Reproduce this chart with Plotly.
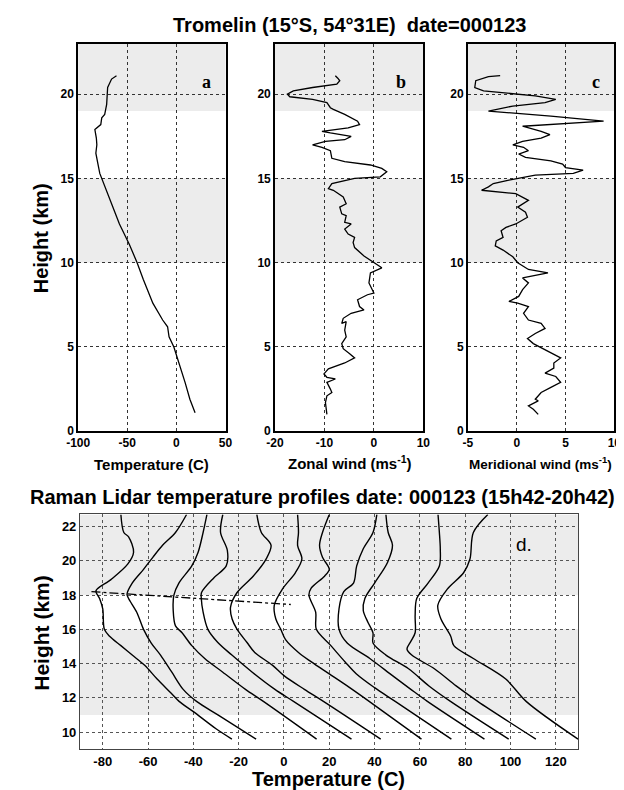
import plotly.graph_objects as go

# ---------------- Radiosonde (panels a, b, c) ----------------
sonde_T_h = [1.1, 1.9, 2.9, 4.1, 5.0, 5.6, 6.2, 6.6, 7.6, 9.0, 10.0, 11.1, 12.3, 13.5, 14.7,
             15.3, 15.9, 16.5, 17.0, 17.4, 17.9, 18.1, 18.2, 18.6, 18.8, 19.4, 20.4, 20.9, 21.1]
sonde_T = [19, 13.7, 8.8, 2.3, -2.6, -7.5, -9, -14, -24, -33.7, -40, -48, -58, -66, -74.5,
           -78, -80, -82, -81, -81.5, -83, -79, -77, -76, -73, -71, -70, -66, -61]

zonal_h = [1.0, 1.7, 2.1, 2.3, 2.5, 2.9, 3.1, 3.2, 3.4, 3.7, 4.05, 4.35, 4.6, 4.9, 5.2, 5.6,
           6.0, 6.5, 6.4, 6.7, 7.0, 7.2, 7.4, 7.8, 8.1, 8.2, 8.8, 9.4, 9.7, 10.0, 10.4, 10.9,
           11.2, 11.5, 11.7, 12.0, 12.3, 12.4, 12.8, 12.9, 13.3, 13.5, 13.9, 14.3, 14.4, 14.7,
           15.0, 15.1, 15.4, 15.6, 15.8, 16.0, 16.2, 16.65, 16.85, 17.0, 17.2, 17.3, 17.5, 17.7,
           17.8, 18.0, 18.2, 18.4, 18.8, 19.1, 19.2, 19.5, 19.7, 19.85, 20.0, 20.2, 20.4, 20.6,
           20.8, 20.95, 21.1]
zonal_u = [-9.5, -9.8, -9.5, -8.5, -8.8, -9.5, -7.8, -9.5, -10.1, -9.2, -5.9, -3.9, -4.9, -6.2,
           -6.5, -5.6, -5.9, -5.6, -6.5, -6.2, -4.6, -2.0, -2.9, -3.3, -1.3, 0.0, -1.0, -0.7,
           1.6, 0.0, -2.0, -3.9, -4.2, -3.9, -5.2, -5.9, -4.6, -5.9, -5.6, -6.5, -6.9, -5.6,
           -6.2, -8.2, -9.2, -8.5, -3.9, 1.3, 2.6, 1.6, -0.7, -5.9, -8.5, -8.8, -10.5, -12.4,
           -9.8, -5.9, -4.6, -8.8, -10.5, -5.2, -2.9, -3.3, -5.9, -8.2, -8.8, -9.5, -12.4, -17,
           -17.5, -16.3, -12.4, -7.5, -6.9, -7.3, -7.8]

merid_h = [1.0, 1.3, 1.5, 1.8, 1.9, 2.3, 2.6, 2.9, 3.25, 3.45, 3.75, 4.05, 4.35, 4.85, 5.2,
           5.5, 5.8, 6.1, 6.4, 6.6, 7.0, 7.4, 7.6, 7.7, 8.0, 8.4, 8.8, 9.1, 9.4, 9.6, 10.0,
           10.35, 10.75, 11.0, 11.3, 11.5, 11.9, 12.1, 12.3, 12.7, 13.0, 13.3, 13.7, 14.1,
           14.25, 14.3, 14.5, 14.7, 14.9, 15.2, 15.3, 15.5, 15.65, 15.85, 16.05, 16.25, 16.45,
           16.65, 16.85, 17.0, 17.2, 17.4, 17.6, 17.8, 18.1, 18.3, 18.4, 18.7, 18.9, 19.0,
           19.3, 19.5, 19.7, 19.9, 20.2, 20.4, 20.8, 21.05, 21.1]
merid_v = [2.2, 1.7, 1.2, 2.2, 1.9, 2.5, 3.5, 4.5, 4.0, 2.9, 3.8, 3.8, 4.5, 2.9, 1.7, 1.1,
           1.9, 2.9, 2.5, 1.2, 0.7, 1.2, 0.1, -0.8, 0.2, 0.6, 1.2, 0.6, 3.2, 1.2, 0.1, -0.4,
           -1.4, -2.2, -2.1, -1.4, -1.6, -1.1, -0.1, 1.1, 0.9, 0.1, 1.2, -0.1, -2.4, -3.6,
           -2.9, -2.4, -0.8, 1.9, 5.8, 6.8, 5.0, 4.7, 3.5, 0.9, 0.2, 1.2, 0.7, -0.4, 0.6, 2.5,
           3.4, 2.5, 0.6, 6.5, 8.9, 3.5, -1.4, -2.9, -0.4, 2.9, 4.0, 1.9, -3.4, -4.3, -4.2,
           -2.9, -1.7]

# ---------------- Raman lidar profiles (panel d) ----------------
lidar_h1 = [9.6, 10.2, 11.2, 11.8, 12.3, 13.1, 13.9, 14.5, 15.05, 15.6, 16.0, 17.2, 17.8, 18.25, 18.9, 19.8, 20.5, 21.4, 21.65, 22.7]
lidar_T1 = [-23, -30, -40, -46.3, -50, -56, -61.5, -67, -72, -77, -79.3, -80, -81.4, -83, -76.4, -69, -66.4, -68.6, -70.7, -72]
lidar_h2 = [9.6, 11.0, 11.8, 12.5, 13.5, 14.5, 15.2, 16.0, 17.0, 17.8, 18.05, 18.7, 19.5, 20.2, 20.9, 21.65, 22.7]
lidar_T2 = [-12.3, -29, -38.6, -44.5, -49.5, -54.5, -58.6, -62, -65, -68.6, -69.3, -67, -62, -57.9, -53.6, -47.9, -43]
lidar_h3 = [9.6, 11.8, 12.5, 13.5, 14.3, 15.05, 15.8, 16.2, 17.1, 18.0, 18.7, 19.7, 20.5, 21.65, 22.7]
lidar_T3 = [14.4, -9.1, -17, -27, -35, -40.7, -45, -47.9, -48.9, -48.6, -46.4, -40.7, -37.9, -35.7, -34]
lidar_h4 = [9.6, 11.8, 12.5, 13.5, 14.5, 15.25, 16.0, 17.0, 17.8, 18.15, 19.0, 19.7, 20.6, 21.65, 22.7]
lidar_T4 = [29.8, 4.2, -4, -14, -23, -29.3, -33.6, -35.7, -36.5, -36.4, -31, -25.5, -25, -28, -27]
lidar_h5 = [9.6, 11.8, 12.5, 13.3, 13.9, 14.65, 15.25, 16.0, 16.6, 17.3, 18.15, 19.1, 20.1, 20.9, 21.65, 22.7]
lidar_T5 = [42.7, 17.4, 9, 0, -5, -12.9, -16.4, -20.7, -22.9, -23.6, -20.7, -13.6, -7.9, -5.7, -10, -12]
lidar_h6 = [9.6, 11.8, 12.6, 13.4, 14.1, 14.65, 15.4, 16.0, 16.6, 17.4, 18.35, 19.3, 20.1, 20.9, 21.65, 22.7]
lidar_T6 = [60.7, 37.6, 29, 20, 12.1, 6.4, 0.7, -1.4, -3.6, -4.3, -0.7, 5, 7.9, 6, 6.4, 6]
lidar_h7 = [9.6, 11.8, 12.6, 13.4, 14.1, 15.05, 16.0, 17.0, 18.0, 18.4, 19.1, 19.5, 20.2, 20.9, 21.65, 22.7]
lidar_T7 = [73.9, 49.1, 40, 32, 27, 20.7, 14.3, 14, 11, 12, 17.9, 20, 17, 15.7, 17, 20]
lidar_h8 = [9.6, 11.8, 12.5, 13.3, 14.3, 15.2, 16.0, 17.2, 18.2, 18.7, 19.7, 20.7, 21.65, 22.7]
lidar_T8 = [88.5, 63.3, 56, 47.9, 37.9, 27.9, 24.3, 24.3, 26.4, 30.7, 32.1, 35, 39.3, 41]
lidar_h9 = [9.6, 11.8, 12.7, 13.7, 14.5, 15.2, 15.8, 16.4, 17.1, 17.8, 18.7, 19.9, 20.9, 21.65, 22.7]
lidar_T9 = [99.2, 73.5, 64, 55, 45, 39.3, 39.3, 37.1, 35, 35.7, 40, 45.7, 47.9, 46, 45]
lidar_h10 = [9.6, 11.8, 12.7, 13.7, 14.5, 14.85, 15.3, 15.8, 16.8, 17.8, 18.7, 19.7, 20.7, 21.65, 22.7]
lidar_T10 = [111.2, 85.5, 76, 66.4, 56.4, 54.3, 56, 57.9, 57.9, 58.6, 63.6, 68.6, 69, 68.6, 68]
lidar_h11 = [9.6, 11.8, 13.1, 14.3, 15.05, 15.6, 16.6, 17.4, 18.35, 19.3, 20.1, 21.65, 22.7]
lidar_T11 = [129.8, 106.9, 97.9, 83.6, 75, 73.6, 69.3, 67.9, 72.1, 79.3, 82.1, 83.6, 90]

tropopause_T = [-85, 3]
tropopause_h = [18.2, 17.45]

# tick labels
a_xticks = [-100, -50, 0, 50]
b_xticks = [-20, -10, 0, 10]
c_xticks = [-5, 0, 5, 10]
abc_yticks = [0, 5, 10, 15, 20]
d_xticks = [-80, -60, -40, -20, 0, 20, 40, 60, 80, 100, 120]
d_yticks = [10, 12, 14, 16, 18, 20, 22]

lidar_profiles = [
    (lidar_T1, lidar_h1), (lidar_T2, lidar_h2), (lidar_T3, lidar_h3), (lidar_T4, lidar_h4),
    (lidar_T5, lidar_h5), (lidar_T6, lidar_h6), (lidar_T7, lidar_h7), (lidar_T8, lidar_h8),
    (lidar_T9, lidar_h9), (lidar_T10, lidar_h10), (lidar_T11, lidar_h11),
]

# ---------------- Figure ----------------
W, H = 624, 790
fig = go.Figure()

def px_x(x):
    return x / W

def px_y(y):
    return 1 - y / H

line_style = dict(color="black", width=1.3)

fig.add_trace(go.Scatter(x=sonde_T, y=sonde_T_h, mode="lines", line=line_style,
                         xaxis="x", yaxis="y", showlegend=False))
fig.add_trace(go.Scatter(x=zonal_u, y=zonal_h, mode="lines", line=line_style,
                         xaxis="x2", yaxis="y2", showlegend=False))
fig.add_trace(go.Scatter(x=merid_v, y=merid_h, mode="lines", line=line_style,
                         xaxis="x3", yaxis="y3", showlegend=False))
for T, h in lidar_profiles:
    fig.add_trace(go.Scatter(x=T, y=h, mode="lines",
                             line=dict(color="black", width=1.4, shape="spline", smoothing=0.9),
                             xaxis="x4", yaxis="y4", showlegend=False))
fig.add_trace(go.Scatter(x=tropopause_T, y=tropopause_h, mode="lines",
                         line=dict(color="black", width=1.3, dash="dashdot"),
                         xaxis="x4", yaxis="y4", showlegend=False))

tickfont = dict(family="Liberation Sans", size=13, color="black", weight="bold")
tickfont_small = dict(family="Liberation Sans", size=12, color="black", weight="bold")
grid_common = dict(showgrid=True, griddash="dot", zeroline=False, showline=True,
                   mirror=True, ticks="")

def labels(vals):
    return [str(v) for v in vals]

top_y_dom = [px_y(427), px_y(36)]
doms = [[px_x(60), px_x(212)], [px_x(263), px_x(416)], [px_x(462), px_x(613)]]
xranges = [[-100, 50], [-20, 10], [-5, 10]]
xticks = [a_xticks, b_xticks, c_xticks]

layout = dict(width=W, height=H, margin=dict(l=0, r=0, t=0, b=0),
              plot_bgcolor="white", paper_bgcolor="white", showlegend=False)
for i in range(3):
    sx = "" if i == 0 else str(i + 1)
    layout["xaxis" + sx] = dict(domain=doms[i], range=xranges[i], tickvals=xticks[i],
                                ticktext=labels(xticks[i]), tickfont=tickfont_small,
                                anchor="y" + sx, gridcolor="#333", gridwidth=1,
                                linecolor="black", linewidth=1.6, **grid_common)
    layout["yaxis" + sx] = dict(domain=top_y_dom, range=[0, 23], tickvals=abc_yticks,
                                ticktext=labels(abc_yticks), tickfont=tickfont_small,
                                anchor="x" + sx, gridcolor="#333", gridwidth=1,
                                linecolor="black", linewidth=1.6, **grid_common)
layout["xaxis4"] = dict(domain=[px_x(62), px_x(576)], range=[-90, 130],
                        tickvals=d_xticks, ticktext=labels(d_xticks), tickfont=tickfont,
                        anchor="y4", gridcolor="#555", gridwidth=1,
                        linecolor="#444", linewidth=1.3, **grid_common)
layout["yaxis4"] = dict(domain=[px_y(748), px_y(511)], range=[9, 22.7],
                        tickvals=d_yticks, ticktext=labels(d_yticks), tickfont=tickfont,
                        anchor="x4", gridcolor="#555", gridwidth=1,
                        linecolor="#444", linewidth=1.3, **grid_common)
fig.update_layout(**layout)

# grey shading bands
grey = "#ececec"
shapes = []
for sx in ["", "2", "3"]:
    for y0, y1 in [(10, 15), (19, 23)]:
        shapes.append(dict(type="rect", xref="x" + sx + " domain", yref="y" + sx,
                           x0=0, x1=1, y0=y0, y1=y1, fillcolor=grey, line_width=0, layer="below"))
for y0, y1 in [(11, 16), (18, 22.7)]:
    shapes.append(dict(type="rect", xref="x4 domain", yref="y4",
                       x0=0, x1=1, y0=y0, y1=y1, fillcolor=grey, line_width=0, layer="below"))
fig.update_layout(shapes=shapes)

bold = dict(family="Liberation Sans", color="black")
ann = []
ann.append(dict(text="<b>Tromelin (15°S, 54°31E)  date=000123</b>", x=px_x(340), y=px_y(17),
                font=dict(size=20, **bold)))
ann.append(dict(text="<b>Raman Lidar temperature profiles date: 000123 (15h42-20h42)</b>",
                x=px_x(312), y=px_y(493), font=dict(size=20, **bold)))
ann.append(dict(text="<b>Height (km)</b>", x=px_x(22), y=px_y(232), textangle=-90,
                font=dict(size=20, **bold)))
ann.append(dict(text="<b>Height (km)</b>", x=px_x(22), y=px_y(630), textangle=-90,
                font=dict(size=21, **bold)))
ann.append(dict(text="<b>Temperature (C)</b>", x=px_x(136), y=px_y(461), font=dict(size=15, **bold)))
ann.append(dict(text="<b>Zonal wind (ms<sup>-1</sup>)</b>", x=px_x(340), y=px_y(459),
                font=dict(size=15, **bold)))
ann.append(dict(text="<b>Meridional wind (ms<sup>-1</sup>)</b>", x=px_x(537), y=px_y(459),
                font=dict(size=13.5, **bold)))
ann.append(dict(text="<b>Temperature (C)</b>", x=px_x(318), y=px_y(778), font=dict(size=20, **bold)))
serif = dict(family="Liberation Serif", color="black", size=18)
ann.append(dict(text="<b>a</b>", x=px_x(192), y=px_y(75), font=serif))
ann.append(dict(text="<b>b</b>", x=px_x(393), y=px_y(75), font=serif))
ann.append(dict(text="<b>c</b>", x=px_x(594), y=px_y(75), font=serif))
ann.append(dict(text="d.", x=px_x(520), y=px_y(541), font=dict(family="Liberation Sans", size=19, color="black")))
for a in ann:
    a.update(xref="paper", yref="paper", showarrow=False, xanchor="center", yanchor="middle")
fig.update_layout(annotations=ann)

fig.write_html("out.html")
